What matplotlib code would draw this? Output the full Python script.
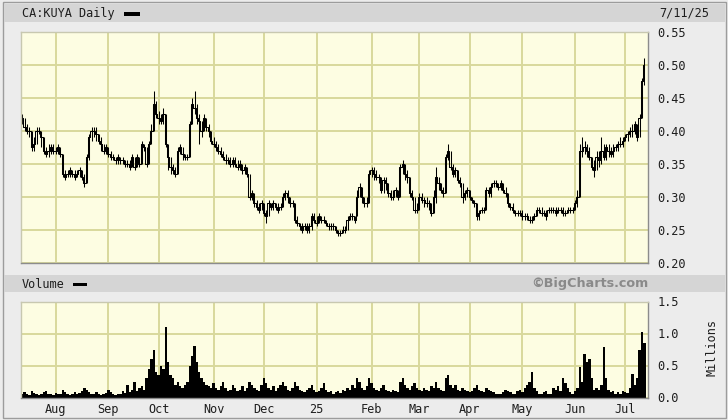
import numpy as np
import pandas as pd
import matplotlib
matplotlib.use("Agg")
import matplotlib.pyplot as plt
from matplotlib.patches import Rectangle

# ---------------- data ----------------
title = "CA:KUYA Daily"
date_label = "7/11/25"
month_labels = ["Aug", "Sep", "Oct", "Nov", "Dec", "25", "Feb", "Mar", "Apr", "May", "Jun", "Jul"]
price_ticks = [0.20, 0.25, 0.30, 0.35, 0.40, 0.45, 0.50, 0.55]
volume_ticks = [0.0, 0.5, 1.0, 1.5]

closes = [
    0.42, 0.405, 0.40, 0.40, 0.375, 0.38, 0.40, 0.40, 0.39, 0.37,
    0.365, 0.37, 0.375, 0.37, 0.37, 0.375, 0.365, 0.335, 0.33, 0.335,
    0.34, 0.335, 0.33, 0.335, 0.34, 0.33, 0.32, 0.36, 0.39, 0.40,
    0.40, 0.395, 0.385, 0.38, 0.37, 0.375, 0.365, 0.36, 0.36, 0.355,
    0.36, 0.355, 0.355, 0.35, 0.35, 0.345, 0.36, 0.345, 0.36, 0.35,
    0.38, 0.375, 0.35, 0.38, 0.40, 0.44, 0.425, 0.42, 0.415, 0.425,
    0.38, 0.36, 0.345, 0.34, 0.335, 0.37, 0.375, 0.365, 0.36, 0.36,
    0.41, 0.44, 0.435, 0.42, 0.415, 0.40, 0.42, 0.405, 0.40, 0.385,
    0.38, 0.375, 0.37, 0.365, 0.36, 0.355, 0.355, 0.35, 0.355, 0.35,
    0.345, 0.35, 0.34, 0.345, 0.335, 0.30, 0.305, 0.29, 0.285, 0.28,
    0.29, 0.275, 0.27, 0.29, 0.285, 0.29, 0.285, 0.28, 0.285, 0.30,
    0.305, 0.30, 0.29, 0.29, 0.265, 0.26, 0.255, 0.25, 0.255, 0.25,
    0.255, 0.27, 0.265, 0.26, 0.27, 0.265, 0.265, 0.26, 0.255, 0.255,
    0.255, 0.25, 0.245, 0.245, 0.25, 0.25, 0.265, 0.27, 0.27, 0.265,
    0.30, 0.315, 0.30, 0.29, 0.29, 0.335, 0.34, 0.335, 0.33, 0.33,
    0.31, 0.325, 0.32, 0.305, 0.30, 0.30, 0.31, 0.30, 0.345, 0.35,
    0.335, 0.33, 0.305, 0.30, 0.28, 0.28, 0.30, 0.295, 0.295, 0.29,
    0.29, 0.275, 0.30, 0.33, 0.32, 0.31, 0.305, 0.36, 0.37, 0.345,
    0.335, 0.34, 0.325, 0.32, 0.30, 0.305, 0.31, 0.30, 0.295, 0.29,
    0.27, 0.275, 0.28, 0.28, 0.31, 0.305, 0.315, 0.32, 0.32, 0.315,
    0.32, 0.31, 0.305, 0.29, 0.285, 0.28, 0.275, 0.275, 0.275, 0.27,
    0.27, 0.27, 0.265, 0.265, 0.27, 0.28, 0.28, 0.275, 0.275, 0.27,
    0.28, 0.28, 0.28, 0.275, 0.28, 0.28, 0.275, 0.275, 0.28, 0.28,
    0.28, 0.29, 0.30, 0.37, 0.37, 0.375, 0.37, 0.36, 0.345, 0.34,
    0.36, 0.355, 0.37, 0.36, 0.375, 0.37, 0.365, 0.37, 0.375, 0.38,
    0.38, 0.385, 0.39, 0.395, 0.40, 0.40, 0.41, 0.39, 0.42, 0.475, 0.50,
]

highs = [
    0.425, 0.42, 0.41, 0.405, 0.40, 0.39, 0.405, 0.405, 0.40, 0.39,
    0.375, 0.38, 0.38, 0.38, 0.375, 0.38, 0.375, 0.365, 0.34, 0.34,
    0.345, 0.34, 0.34, 0.34, 0.345, 0.34, 0.335, 0.365, 0.395, 0.405,
    0.405, 0.405, 0.395, 0.39, 0.38, 0.38, 0.375, 0.37, 0.365, 0.36,
    0.365, 0.36, 0.36, 0.355, 0.355, 0.355, 0.365, 0.36, 0.365, 0.36,
    0.385, 0.38, 0.375, 0.385, 0.41, 0.46, 0.445, 0.43, 0.425, 0.435,
    0.425, 0.38, 0.36, 0.35, 0.345, 0.375, 0.38, 0.375, 0.365, 0.365,
    0.415, 0.45, 0.46, 0.44, 0.425, 0.415, 0.425, 0.42, 0.41, 0.40,
    0.39, 0.385, 0.38, 0.375, 0.37, 0.365, 0.36, 0.36, 0.36, 0.36,
    0.355, 0.355, 0.35, 0.35, 0.345, 0.335, 0.31, 0.305, 0.295, 0.29,
    0.295, 0.29, 0.28, 0.295, 0.29, 0.295, 0.29, 0.29, 0.29, 0.305,
    0.31, 0.31, 0.30, 0.295, 0.29, 0.27, 0.26, 0.26, 0.26, 0.26,
    0.26, 0.275, 0.275, 0.27, 0.275, 0.27, 0.27, 0.265, 0.26, 0.26,
    0.26, 0.255, 0.25, 0.25, 0.255, 0.255, 0.27, 0.275, 0.275, 0.27,
    0.31, 0.32, 0.315, 0.30, 0.30, 0.34, 0.345, 0.345, 0.34, 0.335,
    0.33, 0.33, 0.33, 0.32, 0.31, 0.31, 0.315, 0.31, 0.35, 0.355,
    0.35, 0.34, 0.33, 0.31, 0.30, 0.29, 0.305, 0.305, 0.30, 0.30,
    0.295, 0.29, 0.31, 0.345, 0.33, 0.32, 0.315, 0.365, 0.38, 0.37,
    0.35, 0.345, 0.34, 0.33, 0.32, 0.31, 0.315, 0.31, 0.30, 0.295,
    0.29, 0.28, 0.285, 0.285, 0.315, 0.315, 0.32, 0.325, 0.325, 0.32,
    0.325, 0.32, 0.315, 0.305, 0.29, 0.29, 0.28, 0.28, 0.28, 0.28,
    0.275, 0.275, 0.27, 0.27, 0.275, 0.285, 0.285, 0.285, 0.28, 0.28,
    0.285, 0.285, 0.285, 0.285, 0.285, 0.285, 0.285, 0.28, 0.285, 0.285,
    0.285, 0.295, 0.31, 0.38, 0.39, 0.385, 0.38, 0.375, 0.36, 0.355,
    0.37, 0.37, 0.39, 0.38, 0.38, 0.38, 0.375, 0.38, 0.38, 0.385,
    0.39, 0.39, 0.395, 0.40, 0.405, 0.41, 0.415, 0.41, 0.425, 0.48, 0.51,
]

lows = [
    0.41, 0.40, 0.395, 0.39, 0.37, 0.37, 0.38, 0.395, 0.375, 0.365,
    0.36, 0.36, 0.365, 0.365, 0.365, 0.365, 0.36, 0.33, 0.325, 0.33,
    0.33, 0.33, 0.325, 0.33, 0.33, 0.325, 0.315, 0.32, 0.355, 0.385,
    0.39, 0.385, 0.38, 0.37, 0.365, 0.365, 0.36, 0.355, 0.355, 0.35,
    0.35, 0.35, 0.35, 0.345, 0.345, 0.34, 0.345, 0.34, 0.345, 0.345,
    0.35, 0.37, 0.345, 0.35, 0.38, 0.40, 0.42, 0.41, 0.41, 0.41,
    0.375, 0.34, 0.335, 0.335, 0.33, 0.335, 0.365, 0.355, 0.355, 0.355,
    0.36, 0.41, 0.425, 0.41, 0.38, 0.39, 0.40, 0.40, 0.39, 0.38,
    0.375, 0.37, 0.365, 0.36, 0.355, 0.35, 0.35, 0.345, 0.345, 0.345,
    0.34, 0.34, 0.335, 0.335, 0.33, 0.295, 0.295, 0.285, 0.28, 0.275,
    0.28, 0.27, 0.26, 0.27, 0.28, 0.28, 0.28, 0.275, 0.28, 0.285,
    0.295, 0.29, 0.285, 0.285, 0.26, 0.255, 0.25, 0.245, 0.25, 0.245,
    0.245, 0.25, 0.26, 0.255, 0.26, 0.26, 0.26, 0.255, 0.25, 0.25,
    0.25, 0.245, 0.24, 0.24, 0.245, 0.245, 0.25, 0.265, 0.265, 0.26,
    0.27, 0.30, 0.29, 0.285, 0.285, 0.29, 0.33, 0.325, 0.325, 0.32,
    0.305, 0.305, 0.31, 0.30, 0.295, 0.295, 0.30, 0.295, 0.30, 0.335,
    0.325, 0.32, 0.30, 0.295, 0.275, 0.275, 0.28, 0.29, 0.285, 0.285,
    0.28, 0.27, 0.275, 0.29, 0.31, 0.305, 0.30, 0.305, 0.355, 0.34,
    0.33, 0.33, 0.32, 0.315, 0.29, 0.295, 0.30, 0.295, 0.29, 0.285,
    0.265, 0.265, 0.275, 0.275, 0.28, 0.30, 0.30, 0.315, 0.315, 0.31,
    0.31, 0.305, 0.30, 0.285, 0.28, 0.275, 0.27, 0.27, 0.27, 0.265,
    0.265, 0.265, 0.26, 0.26, 0.265, 0.27, 0.275, 0.27, 0.27, 0.265,
    0.275, 0.275, 0.275, 0.27, 0.275, 0.275, 0.27, 0.27, 0.275, 0.275,
    0.275, 0.28, 0.285, 0.30, 0.36, 0.365, 0.36, 0.355, 0.34, 0.33,
    0.34, 0.345, 0.35, 0.355, 0.355, 0.36, 0.36, 0.36, 0.37, 0.37,
    0.375, 0.375, 0.385, 0.385, 0.39, 0.39, 0.395, 0.385, 0.39, 0.42, 0.47,
]

volumes = [  # millions of shares
    0.05, 0.08, 0.06, 0.04, 0.10, 0.07, 0.05, 0.04, 0.06, 0.08,
    0.10, 0.06, 0.05, 0.04, 0.07, 0.05, 0.06, 0.12, 0.08, 0.05,
    0.04, 0.06, 0.08, 0.05, 0.07, 0.10, 0.15, 0.12, 0.08, 0.06,
    0.05, 0.09, 0.06, 0.04, 0.05, 0.07, 0.12, 0.08, 0.05, 0.04,
    0.06, 0.05, 0.10, 0.07, 0.20, 0.08, 0.12, 0.25, 0.10, 0.15,
    0.18, 0.12, 0.30, 0.45, 0.60, 0.75, 0.40, 0.35, 0.50, 0.45,
    1.10, 0.55, 0.35, 0.30, 0.20, 0.25, 0.18, 0.15, 0.20, 0.25,
    0.50, 0.65, 0.80, 0.55, 0.40, 0.30, 0.25, 0.20, 0.18, 0.15,
    0.22, 0.15, 0.12, 0.18, 0.25, 0.15, 0.10, 0.12, 0.20, 0.15,
    0.10, 0.12, 0.18, 0.10, 0.15, 0.25, 0.20, 0.15, 0.12, 0.10,
    0.20, 0.30, 0.22, 0.15, 0.12, 0.18, 0.10, 0.15, 0.20, 0.25,
    0.18, 0.12, 0.10, 0.15, 0.25, 0.18, 0.12, 0.10, 0.08, 0.12,
    0.15, 0.20, 0.12, 0.08, 0.10, 0.15, 0.22, 0.12, 0.08, 0.10,
    0.06, 0.08, 0.10, 0.07, 0.12, 0.10, 0.15, 0.12, 0.20, 0.15,
    0.30, 0.25, 0.15, 0.12, 0.18, 0.30, 0.22, 0.15, 0.12, 0.10,
    0.15, 0.20, 0.12, 0.10, 0.08, 0.12, 0.10, 0.08, 0.25, 0.30,
    0.20, 0.15, 0.12, 0.18, 0.22, 0.15, 0.12, 0.10, 0.15, 0.12,
    0.10, 0.18, 0.15, 0.25, 0.15, 0.12, 0.10, 0.30, 0.35, 0.20,
    0.15, 0.20, 0.12, 0.10, 0.15, 0.12, 0.10, 0.08, 0.10, 0.15,
    0.20, 0.12, 0.10, 0.08, 0.15, 0.12, 0.10, 0.08, 0.06, 0.05,
    0.06, 0.08, 0.12, 0.10, 0.08, 0.06, 0.05, 0.10, 0.12, 0.08,
    0.15, 0.20, 0.25, 0.40, 0.15, 0.10, 0.06, 0.05, 0.08, 0.10,
    0.06, 0.05, 0.15, 0.12, 0.18, 0.10, 0.30, 0.22, 0.15, 0.08,
    0.05, 0.10, 0.15, 0.47, 0.25, 0.68, 0.55, 0.60, 0.30, 0.12,
    0.15, 0.12, 0.20, 0.79, 0.30, 0.12, 0.08, 0.10, 0.06, 0.08,
    0.05, 0.10, 0.08, 0.07, 0.15, 0.37, 0.20, 0.30, 0.75, 1.02, 0.85,
]

# ---------------- layout ----------------
dates = pd.bdate_range("2024-07-12", "2025-07-11")
n = min(len(dates), len(closes), len(highs), len(lows), len(volumes))
x = np.arange(n)
month_pos = [i for i in range(1, len(dates)) if dates[i].month != dates[i - 1].month]

W, H = 728, 420
BG = "#ececec"
BAND = "#d5d5d5"
PLOT_BG = "#fdfde2"
GRID = "#d8d89c"
TXT = "#1e1e1e"
MONO = "DejaVu Sans Mono"
FS = 8.6

fig = plt.figure(figsize=(W / 100, H / 100), dpi=100, facecolor=BG)


def frac_rect(x0, y0, x1, y1):
    """pixel box (top-left origin) -> figure fraction [l, b, w, h]"""
    return [x0 / W, 1 - y1 / H, (x1 - x0) / W, (y1 - y0) / H]


def fx(px):
    return px / W


def fy(py):
    return 1 - py / H


# outer frame and header bands
l, b, w, h = frac_rect(3, 2, 726, 418)
fig.add_artist(Rectangle((l, b), w, h, transform=fig.transFigure, fill=False,
                         ec="#9c9c9c", lw=1.0))
for (y0, y1) in [(4, 22), (275, 292)]:
    l, b, w, h = frac_rect(4, y0, 725, y1)
    fig.add_artist(Rectangle((l, b), w, h, transform=fig.transFigure,
                             fc=BAND, ec="none"))

ax_p = fig.add_axes(frac_rect(21, 32, 648, 262.5))
ax_v = fig.add_axes(frac_rect(21, 301.5, 648, 397.5))

for ax in (ax_p, ax_v):
    ax.set_facecolor(PLOT_BG)
    ax.set_xlim(-0.5, 261.5)
    ax.set_xticks(month_pos[:len(month_labels)])
    ax.grid(True, color=GRID, lw=1.4)
    ax.set_axisbelow(True)
    ax.yaxis.tick_right()
    ax.tick_params(axis="both", length=0, labelsize=FS, colors=TXT, pad=6.5)
    for lab in ax.get_yticklabels() + ax.get_xticklabels():
        lab.set_family(MONO)
    for side, sp in ax.spines.items():
        sp.set_color("#8c8c8c" if side in ("right", "bottom") else "#c8c8b0")
        sp.set_linewidth(1.0)

# price panel
ax_p.set_ylim(price_ticks[0], price_ticks[-1])
ax_p.set_yticks(price_ticks)
ax_p.set_yticklabels([f"{t:.2f}" for t in price_ticks], family=MONO, fontsize=FS, color=TXT)
ax_p.set_xticklabels([])
ax_p.vlines(x, lows[:n], highs[:n], color="black", lw=0.75)
ax_p.plot(x, closes[:n], drawstyle="steps-mid", color="black", lw=0.75)

# volume panel
ax_v.set_ylim(volume_ticks[0], volume_ticks[-1])
ax_v.set_yticks(volume_ticks)
ax_v.set_yticklabels([f"{t:.1f}" for t in volume_ticks], family=MONO, fontsize=FS, color=TXT)
ax_v.set_xticklabels(month_labels[:len(month_pos)], family=MONO, fontsize=FS, color=TXT)
ax_v.tick_params(axis="x", pad=4.0)
ax_v.bar(x, volumes[:n], width=1.0, color="black", lw=0)

# header texts
fig.text(fx(22), fy(13.5), title, family=MONO, fontsize=FS, color=TXT, va="center", ha="left")
l, b, w, h = frac_rect(124, 12, 140, 15.5)
fig.add_artist(Rectangle((l, b), w, h, transform=fig.transFigure, fc="black", ec="none"))
fig.text(fx(709), fy(13.5), date_label, family=MONO, fontsize=FS, color=TXT, va="center", ha="right")

fig.text(fx(22), fy(284), "Volume", family=MONO, fontsize=FS, color=TXT, va="center", ha="left")
l, b, w, h = frac_rect(73, 282.5, 87, 286)
fig.add_artist(Rectangle((l, b), w, h, transform=fig.transFigure, fc="black", ec="none"))
fig.text(fx(590), fy(283.5), "©BigCharts.com", family="DejaVu Sans", fontweight="bold",
         fontsize=9.2, color="#8a8a8a", va="center", ha="center")
fig.text(fx(712), fy(347), "Millions", family=MONO, fontsize=FS, color=TXT,
         rotation=90, va="center", ha="center")

fig.savefig("out.png", dpi=100, facecolor=BG)
